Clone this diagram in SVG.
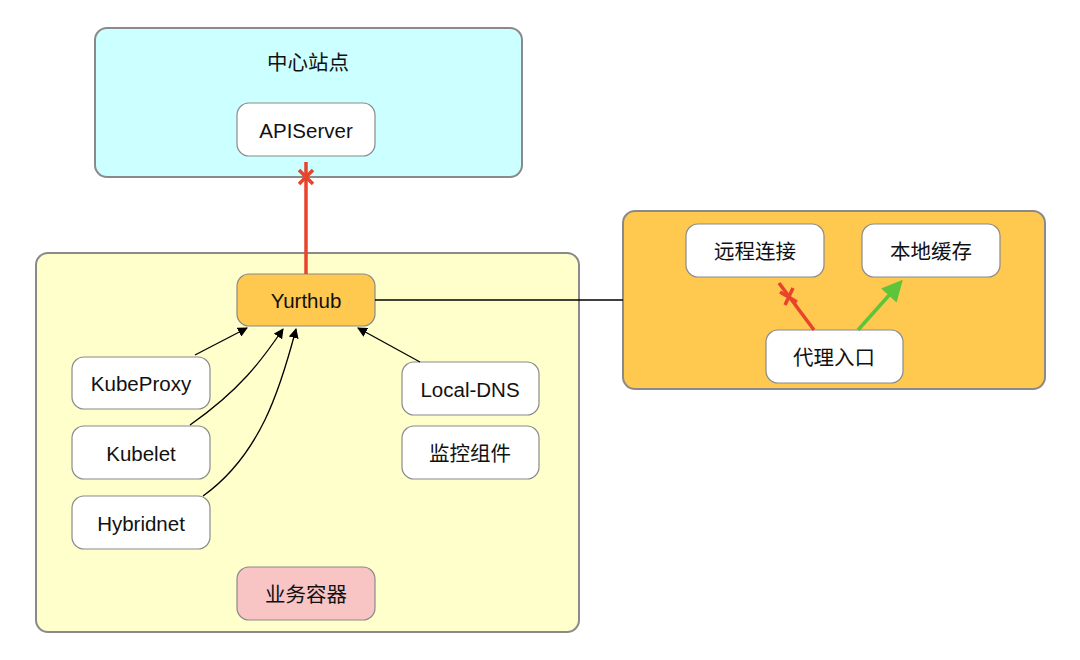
<svg xmlns="http://www.w3.org/2000/svg" width="1080" height="660" viewBox="0 0 1080 660">
<style>
.grp{stroke:#8a8a8a;stroke-width:2}
.node{fill:#ffffff;stroke:#8a8a8a;stroke-width:1.2}
.t{font-family:"Liberation Sans","Noto Sans CJK SC",sans-serif;font-size:20.5px;fill:#111;text-anchor:middle;dominant-baseline:central}
.thin{fill:none;stroke:#000;stroke-width:1.3}
.red{fill:none;stroke:#e8432c;stroke-width:3.5}
</style>
<defs>
<marker id="ah" viewBox="0 0 10 10" refX="9" refY="5" markerWidth="10" markerHeight="10" markerUnits="userSpaceOnUse" orient="auto"><path d="M0,0 L10,5 L0,10 z" fill="#000"/></marker>
<marker id="ag" viewBox="0 0 10 10" refX="8" refY="5" markerWidth="6" markerHeight="6" orient="auto"><path d="M0,0 L10,5 L0,10 z" fill="#5ec43a"/></marker>
</defs>
<rect width="1080" height="660" fill="#ffffff"/>
<g id="center-site">
<rect class="grp" x="95" y="28" width="427" height="149" rx="12" fill="#ccffff"/>
<text class="t" x="308" y="62">中心站点</text>
</g>
<g id="edge-node">
<rect class="grp" x="36" y="253" width="543" height="379" rx="12" fill="#ffffcc"/>
</g>
<g id="proxy-panel">
<rect class="grp" x="623" y="211" width="422" height="178" rx="12" fill="#ffc84f"/>
</g>
<g id="apiserver"><rect class="node" x="237" y="103" width="138" height="53" rx="12"/><text class="t" x="306" y="130">APIServer</text></g>
<g id="yurthub"><rect class="node" x="237" y="274" width="138" height="52" rx="12" style="fill:#ffc84f"/><text class="t" x="306" y="300">Yurthub</text></g>
<g id="kubeproxy"><rect class="node" x="72" y="357" width="138" height="52" rx="12"/><text class="t" x="141" y="383">KubeProxy</text></g>
<g id="kubelet"><rect class="node" x="72" y="426" width="138" height="53" rx="12"/><text class="t" x="141" y="453">Kubelet</text></g>
<g id="hybridnet"><rect class="node" x="72" y="496" width="138" height="53" rx="12"/><text class="t" x="141" y="523">Hybridnet</text></g>
<g id="local-dns"><rect class="node" x="402" y="362" width="137" height="53" rx="12"/><text class="t" x="470" y="389">Local-DNS</text></g>
<g id="monitor"><rect class="node" x="402" y="426" width="137" height="53" rx="12"/><text class="t" x="470" y="453">监控组件</text></g>
<g id="business"><rect class="node" x="237" y="567" width="138" height="53" rx="12" style="fill:#f8c4c4"/><text class="t" x="306" y="594">业务容器</text></g>
<g id="remote"><rect class="node" x="686" y="224" width="138" height="53" rx="12"/><text class="t" x="755" y="251">远程连接</text></g>
<g id="cache"><rect class="node" x="862" y="224" width="138" height="53" rx="12"/><text class="t" x="931" y="251">本地缓存</text></g>
<g id="proxy-entry"><rect class="node" x="766" y="330" width="137" height="53" rx="12"/><text class="t" x="834" y="357">代理入口</text></g>
<g id="connectors">
<line class="red" x1="306" y1="274" x2="306" y2="162"/>
<path class="red" d="M299,170 L313,184 M313,170 L299,184" stroke-width="3"/>
<line class="thin" x1="375" y1="300" x2="623" y2="300"/>
<line class="thin" x1="195" y1="355" x2="247" y2="328" marker-end="url(#ah)"/>
<path class="thin" d="M190,425 C240,390 262,360 283,329" marker-end="url(#ah)"/>
<path class="thin" d="M203,496 C260,455 280,390 296,329" marker-end="url(#ah)"/>
<line class="thin" x1="420" y1="362" x2="358" y2="328" marker-end="url(#ah)"/>
<line class="red" x1="814" y1="330" x2="779" y2="283"/>
<path class="red" d="M780,292 L797,302 M785,305 L793,288" stroke-width="3"/>
<line x1="858" y1="330" x2="900" y2="283" stroke="#5ec43a" stroke-width="3.5" marker-end="url(#ag)"/>
</g>
</svg>
